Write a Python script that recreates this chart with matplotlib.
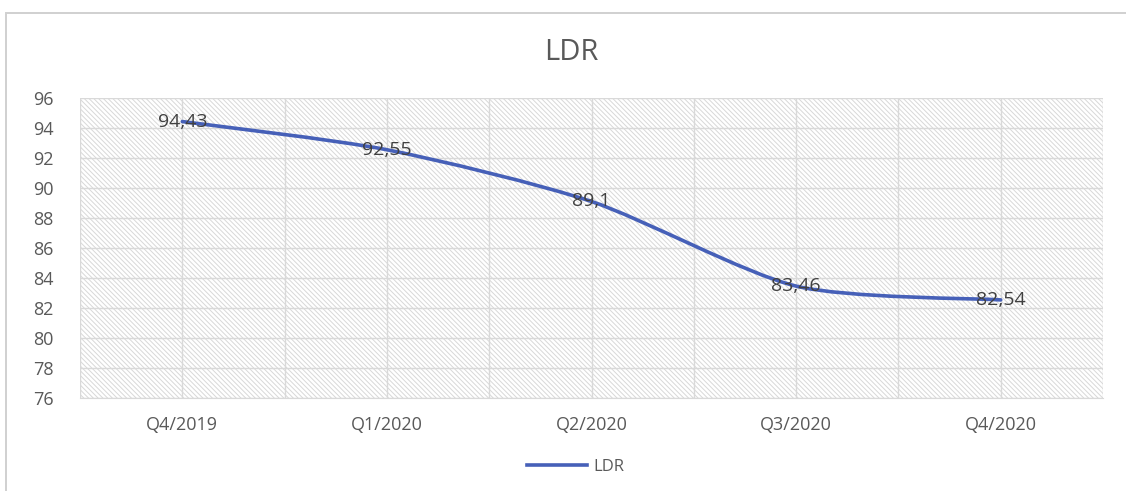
import matplotlib.pyplot as plt
from matplotlib.patches import Rectangle, PathPatch
from matplotlib.path import Path
from matplotlib.lines import Line2D
import numpy as np

quarters = ['Q4/2019', 'Q1/2020', 'Q2/2020', 'Q3/2020', 'Q4/2020']
ldr = [94.43, 92.55, 89.1, 83.46, 82.54]
labels = ['94,43', '92,55', '89,1', '83,46', '82,54']

plt.rcParams['font.family'] = ['Open Sans', 'DejaVu Sans']
plt.rcParams['hatch.linewidth'] = 0.7
plt.rcParams['hatch.color'] = '#d8d8d8'

W, H = 1126, 491
fig = plt.figure(figsize=(W / 100, H / 100), dpi=100)

# chart border (runs off the right and bottom edges)
fig.patches.append(Rectangle((6 / W, -0.05), 1.1, 1.05 - 13 / H,
                             transform=fig.transFigure, fill=False,
                             edgecolor='#d0d0d0', linewidth=1.4))

ax = fig.add_axes([80 / W, 1 - 398 / H, (1103 - 80) / W, (398 - 98) / H])
x = np.arange(len(quarters))
ax.set_xlim(-0.5, len(quarters) - 0.5)
ax.set_ylim(76, 96)

# hatched plot background
ax.add_patch(Rectangle((0, 0), 1, 1, transform=ax.transAxes, facecolor='white',
                       hatch='\\' * 7, edgecolor='#d8d8d8', linewidth=0, zorder=0))

ax.set_yticks(np.arange(76, 97, 2))
ax.set_xticks(x)
ax.set_xticklabels(quarters)
ax.set_xticks(np.arange(-0.5, len(quarters), 1.0), minor=True)
ax.grid(True, which='major', color='#d9d9d9', linewidth=1, zorder=1)
ax.grid(True, which='minor', axis='x', color='#d9d9d9', linewidth=1, zorder=1)
ax.set_axisbelow(True)
ax.tick_params(which='both', length=0)
ax.tick_params(axis='y', labelsize=13, labelcolor='#595959', pad=19)
ax.tick_params(axis='x', labelsize=13, labelcolor='#595959', pad=13)
for s in ax.spines.values():
    s.set_visible(False)
ax.spines['bottom'].set_visible(True)
ax.spines['bottom'].set_color('#d9d9d9')

# smoothed line through the points (cubic Bezier segments)
pts = np.column_stack([x, ldr]).astype(float)
verts = [tuple(pts[0])]
codes = [Path.MOVETO]
for i in range(len(pts) - 1):
    p0 = pts[i - 1] if i > 0 else pts[i]
    p1, p2 = pts[i], pts[i + 1]
    p3 = pts[i + 2] if i + 2 < len(pts) else pts[i + 1]
    c1 = p1 + (p2 - p0) / 8
    c2 = p2 - (p3 - p1) / 8
    verts += [tuple(c1), tuple(c2), tuple(p2)]
    codes += [Path.CURVE4] * 3
line_color = '#4660b8'
ax.add_patch(PathPatch(Path(verts, codes), facecolor='none', edgecolor=line_color,
                       linewidth=2.6, capstyle='round', zorder=3))

for xi, yi, lab in zip(x, ldr, labels):
    ax.text(xi, yi, lab, ha='center', va='center', fontsize=14,
            color='#404040', zorder=4)

fig.text(571 / W, 1 - 53 / H, 'LDR', ha='center', va='center',
         fontsize=21, color='#595959')

handle = Line2D([], [], color=line_color, linewidth=2.6)
fig.legend([handle], ['LDR'], loc='center', bbox_to_anchor=(576 / W, 1 - 467 / H),
           frameon=False, fontsize=12, labelcolor='#595959',
           handlelength=3.6, handletextpad=0.4)

fig.savefig('out.png', dpi=100)
